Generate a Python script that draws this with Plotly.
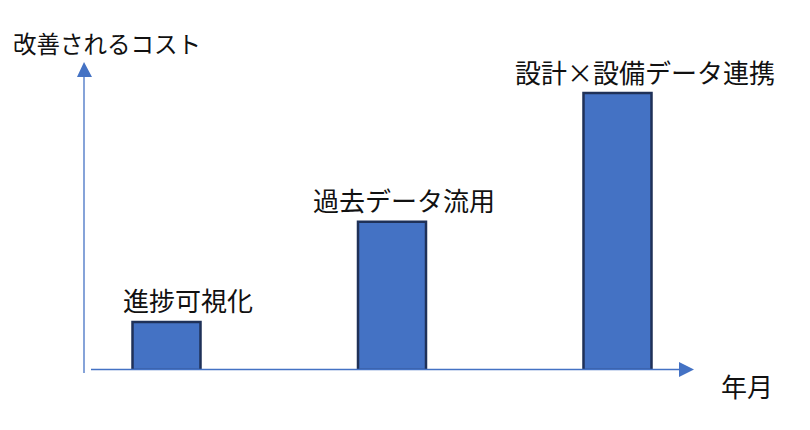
import plotly.graph_objects as go

# data
categories = ["進捗可視化", "過去データ流用", "設計×設備データ連携"]
values = [1.73, 5.35, 10.0]
y_title = "改善されるコスト"
x_title = "年月"

W, H = 810, 430
L, R, T, B = 84, 130, 77, 60
pw, ph = W - L - R, H - T - B

def px(x, y):
    # pixel -> paper coords
    return (x - L) / pw, (H - B - y) / ph

blue = "#4472C4"
font = "Noto Sans CJK JP, Noto Sans, sans-serif"

fig = go.Figure(go.Bar(
    x=list(range(len(categories))), y=values, width=0.3016,
    marker=dict(color=blue, line=dict(color="#1F3158", width=2.5)),
    hoverinfo="skip",
))

shapes = []
# y axis line and arrowhead
x0, y0 = px(84, 373); x1, y1 = px(84, 77)
shapes.append(dict(type="line", xref="paper", yref="paper", x0=x0, y0=y0, x1=x1, y1=y1,
                   line=dict(color=blue, width=1.3)))
a, b = px(77, 77); c, d = px(84, 62); e, f = px(92, 77)
shapes.append(dict(type="path", xref="paper", yref="paper",
                   path=f"M{a},{b} L{c},{d} L{e},{f} Z", fillcolor=blue, line=dict(width=0)))
# x axis line and arrowhead
x0, y0 = px(91, 369.5); x1, y1 = px(680, 369.5)
shapes.append(dict(type="line", xref="paper", yref="paper", x0=x0, y0=y0, x1=x1, y1=y1,
                   line=dict(color=blue, width=1.3)))
a, b = px(679, 362); c, d = px(694, 369.5); e, f = px(679, 377)
shapes.append(dict(type="path", xref="paper", yref="paper",
                   path=f"M{a},{b} L{c},{d} L{e},{f} Z", fillcolor=blue, line=dict(width=0)))

annotations = []
xshifts = [21, 12, 28]
yshifts = [2, 2, 1]
for i, (cat, v) in enumerate(zip(categories, values)):
    annotations.append(dict(x=i, y=v, xref="x", yref="y", text=cat, showarrow=False,
                            yanchor="bottom", xshift=xshifts[i], yshift=yshifts[i],
                            font=dict(size=26, color="#111", family=font)))
tx, ty = px(11, 43)
annotations.append(dict(x=tx, y=ty, xref="paper", yref="paper", text=y_title, showarrow=False,
                        xanchor="left", yanchor="middle", font=dict(size=23.5, color="#111", family=font)))
tx, ty = px(719, 385)
annotations.append(dict(x=tx, y=ty, xref="paper", yref="paper", text=x_title, showarrow=False,
                        xanchor="left", yanchor="middle", font=dict(size=26, color="#111", family=font)))

fig.update_layout(
    width=W, height=H, margin=dict(l=L, r=R, t=T, b=B),
    paper_bgcolor="white", plot_bgcolor="white", showlegend=False,
    xaxis=dict(range=[-0.3659, 2.2772], visible=False, fixedrange=True),
    yaxis=dict(range=[0, 10.578], visible=False, fixedrange=True),
    shapes=shapes, annotations=annotations,
)
fig.write_html("out.html", config={"displayModeBar": False},
               post_script="document.body.style.margin='0';")
